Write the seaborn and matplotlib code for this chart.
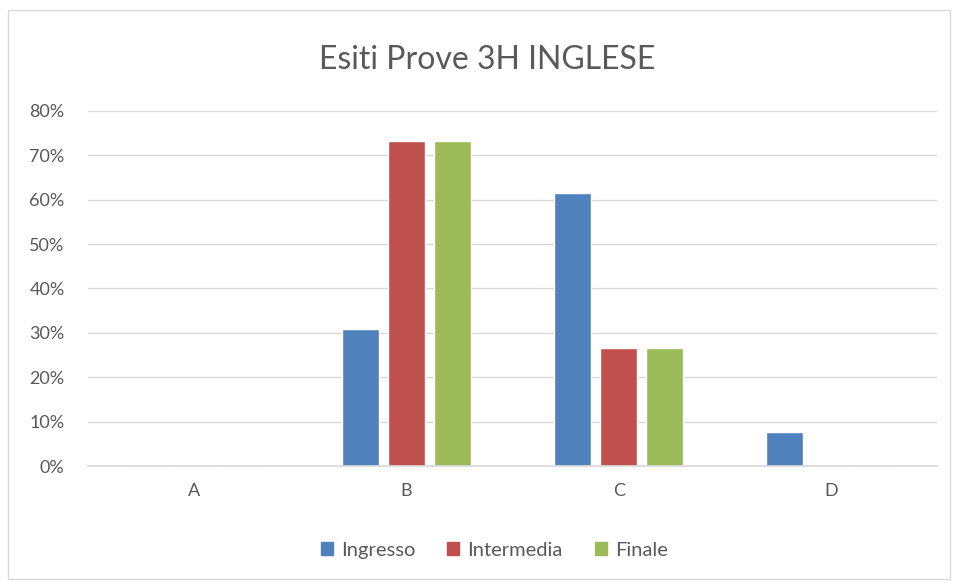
import pandas as pd
import matplotlib.pyplot as plt
import matplotlib.patches as mpatches
from matplotlib.ticker import PercentFormatter
import seaborn as sns

# data
categories = ["A", "B", "C", "D"]
series = ["Ingresso", "Intermedia", "Finale"]
ingresso = [0.0, 4 / 13, 8 / 13, 1 / 13]
intermedia = [0.0, 11 / 15, 4 / 15, 0.0]
finale = [0.0, 11 / 15, 4 / 15, 0.0]
colors = ["#4F81BD", "#C0504D", "#9BBB59"]

df = pd.DataFrame({
    "Esito": categories * 3,
    "Prova": [s for s in series for _ in categories],
    "Valore": ingresso + intermedia + finale,
})

sns.set_theme(style="white")
plt.rcParams["font.family"] = ["Lato", "DejaVu Sans"]

fig = plt.figure(figsize=(9.58, 5.84), dpi=100)
ax = fig.add_axes([0.092, 0.202, 0.886, 0.608])

sns.barplot(data=df, x="Esito", y="Valore", hue="Prova", palette=colors,
            width=0.65, gap=0.2, ax=ax, legend=False, saturation=1)

ax.set_ylim(0, 0.8)
ax.set_yticks([i / 10 for i in range(9)])
ax.yaxis.set_major_formatter(PercentFormatter(1.0, decimals=0))
ax.yaxis.grid(True, color="#D9D9D9", lw=1)
ax.set_axisbelow(True)
ax.set_xlabel("")
ax.set_ylabel("")
for s in ["top", "left", "right"]:
    ax.spines[s].set_visible(False)
ax.spines["bottom"].set_color("#D9D9D9")
ax.tick_params(axis="both", length=0, labelsize=13, colors="#595959")
ax.tick_params(axis="y", pad=17)
ax.tick_params(axis="x", pad=12)

fig.text(0.508, 0.897, "Esiti Prove 3H INGLESE", ha="center", va="center",
         fontsize=23, color="#595959")

handles = [mpatches.Patch(color=c, label=s) for c, s in zip(colors, series)]
fig.legend(handles=handles, loc="center", bbox_to_anchor=(0.516, 0.058),
           ncol=3, frameon=False, fontsize=14.5, handlelength=0.6, handleheight=0.6,
           handletextpad=0.4, columnspacing=1.6, labelcolor="#595959")

# chart border
fig.patches.append(mpatches.Rectangle((0.008, 0.008), 0.984, 0.975,
                                      transform=fig.transFigure, fill=False,
                                      edgecolor="#D9D9D9", lw=1))

fig.savefig("out.png", dpi=100)
